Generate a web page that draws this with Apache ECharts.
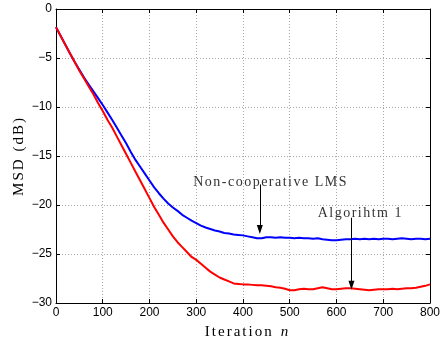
<!DOCTYPE html>
<html><head><meta charset="utf-8">
<script src="https://cdn.jsdelivr.net/npm/echarts@6/dist/echarts.min.js"></script>
<style>html,body{margin:0;padding:0;background:#fff}#c{width:443px;height:345px}</style>
</head><body><div id="c"></div>
<script>
const iterations = [0,10,20,30,40,50,60,70,80,90,100,110,120,130,140,150,160,170,180,190,200,210,220,230,240,250,260,270,280,290,300,310,320,330,340,350,360,370,380,390,400,410,420,430,440,450,460,470,480,490,500,510,520,530,540,550,560,570,580,590,600,610,620,630,640,650,660,670,680,690,700,710,720,730,740,750,760,770,780,790,800];
const nonCoopLMS = [-1.85,-2.75,-3.65,-4.55,-5.4,-6.2,-7.0,-7.7,-8.4,-9.1,-9.8,-10.55,-11.3,-12.1,-12.9,-13.7,-14.6,-15.4,-16.1,-16.8,-17.5,-18.2,-18.8,-19.35,-19.85,-20.25,-20.6,-21.0,-21.3,-21.6,-21.85,-22.1,-22.3,-22.45,-22.6,-22.7,-22.85,-22.9,-23.0,-23.05,-23.1,-23.2,-23.3,-23.4,-23.4,-23.3,-23.3,-23.35,-23.3,-23.35,-23.35,-23.4,-23.35,-23.4,-23.4,-23.45,-23.4,-23.5,-23.55,-23.6,-23.6,-23.55,-23.5,-23.5,-23.45,-23.5,-23.45,-23.5,-23.45,-23.5,-23.45,-23.45,-23.5,-23.45,-23.4,-23.45,-23.5,-23.45,-23.45,-23.5,-23.45];
const algorithm1 = [-1.85,-2.75,-3.65,-4.55,-5.4,-6.3,-7.1,-7.9,-8.7,-9.6,-10.4,-11.3,-12.1,-13.0,-13.9,-14.8,-15.7,-16.6,-17.5,-18.4,-19.3,-20.2,-21.0,-21.8,-22.5,-23.2,-23.8,-24.3,-24.8,-25.3,-25.6,-26.0,-26.4,-26.8,-27.1,-27.4,-27.6,-27.8,-28.0,-28.05,-28.1,-28.1,-28.15,-28.2,-28.2,-28.25,-28.3,-28.4,-28.45,-28.55,-28.7,-28.7,-28.6,-28.55,-28.6,-28.6,-28.5,-28.4,-28.5,-28.6,-28.6,-28.55,-28.5,-28.5,-28.55,-28.6,-28.65,-28.7,-28.65,-28.6,-28.6,-28.6,-28.55,-28.6,-28.55,-28.5,-28.5,-28.45,-28.35,-28.25,-28.1];
const xTicks = [0,100,200,300,400,500,600,700,800];
const yTicks = [-30,-25,-20,-15,-10,-5,0];
const annotationLabels = ['Non-cooperative LMS', 'Algorihtm 1'];
const annotationLabelAt = [[459, -17.65], [651, -20.9]];
const arrowFrom = [[436, -17.9], [632, -21.3]];
const arrowTip = [[436, -22.5], [632, -28.2]];

// wider tracking for the serif (LaTeX-like) texts
(function () {
  const proto = CanvasRenderingContext2D.prototype;
  const origFill = proto.fillText;
  proto.fillText = function (text, x, y, maxW) {
    if ('letterSpacing' in this) {
      const f = this.font || '';
      const m = /(\d+(?:\.\d+)?)px/.exec(f);
      if (/Serif/.test(f) && m) this.letterSpacing = (parseFloat(m[1]) >= 15 ? 2 : 1.5) + 'px';
      else this.letterSpacing = '0px';
    }
    return maxW === undefined ? origFill.call(this, text, x, y) : origFill.call(this, text, x, y, maxW);
  };
})();

const chart = echarts.init(document.getElementById('c'), null, {renderer: 'canvas'});
const serif = 'Liberation Serif';
const sans = 'Liberation Sans';
const fmt = v => String(v).replace('-', '\u2212');
const baseAxis = {
  axisLine: {show: true, onZero: false, lineStyle: {color: '#000', width: 1}},
  axisTick: {show: true, inside: true, length: 4, lineStyle: {color: '#000'}},
};
const gridLine = {show: true, lineStyle: {color: '#a8a8a8', type: [1, 2], width: 1}};
const opt = {
  animation: false,
  backgroundColor: '#fff',
  grid: {left: 56, right: 7, top: 9, bottom: 36, containLabel: false},
  xAxis: [
    Object.assign({}, baseAxis, {
      type: 'value', min: xTicks[0], max: xTicks[xTicks.length-1], interval: xTicks[1]-xTicks[0], position: 'bottom',
      axisLabel: {color: '#000', fontFamily: sans, fontSize: 12, margin: 4, formatter: fmt},
      splitLine: gridLine,
      name: '{a|Iteration}{b|n}', nameLocation: 'middle', nameGap: 22,
      nameTextStyle: {rich: {
        a: {fontFamily: serif, fontSize: 15, color: '#000', padding: [0, 0, 0, 17]},
        b: {fontFamily: serif, fontSize: 15, fontStyle: 'italic', color: '#000', padding: [0, 0, 0, 17]}
      }}
    }),
    Object.assign({}, baseAxis, {
      type: 'value', min: xTicks[0], max: xTicks[xTicks.length-1], interval: xTicks[1]-xTicks[0], position: 'top',
      axisLabel: {show: false}, splitLine: {show: false}
    })
  ],
  yAxis: [
    Object.assign({}, baseAxis, {
      type: 'value', min: yTicks[0], max: yTicks[yTicks.length-1], interval: yTicks[1]-yTicks[0], position: 'left',
      axisLabel: {color: '#000', fontFamily: sans, fontSize: 12, margin: 4, formatter: fmt},
      splitLine: gridLine,
      name: 'MSD (dB)', nameLocation: 'middle', nameGap: 29, nameRotate: 90, nameMoveOverlap: false,
      nameTextStyle: {fontFamily: serif, fontSize: 15, color: '#000'}
    }),
    Object.assign({}, baseAxis, {
      type: 'value', min: yTicks[0], max: yTicks[yTicks.length-1], interval: yTicks[1]-yTicks[0], position: 'right',
      axisLabel: {show: false}, splitLine: {show: false}
    })
  ],
  series: [
    {
      name: 'Non-cooperative LMS', type: 'line', showSymbol: false, silent: true,
      data: iterations.map((n, i) => [n, nonCoopLMS[i]]),
      lineStyle: {color: '#0000ff', width: 2}, itemStyle: {color: '#0000ff'}, z: 3
    },
    {
      name: 'Algorithm 1', type: 'line', showSymbol: false, silent: true,
      data: iterations.map((n, i) => [n, algorithm1[i]]),
      lineStyle: {color: '#ff0000', width: 2}, itemStyle: {color: '#ff0000'}, z: 3,
      markLine: {
        silent: true, symbol: ['none', 'triangle'], symbolSize: 8,
        lineStyle: {color: '#000', width: 1, type: 'solid'}, label: {show: false},
        itemStyle: {color: '#000'},
        data: arrowFrom.map((p, i) => [{coord: p, symbol: 'none'}, {coord: arrowTip[i], symbol: 'triangle', symbolSize: [6, 9]}])
      },
      markPoint: {
        silent: true, symbol: 'circle', symbolSize: 0,
        label: {show: true, position: 'inside', formatter: '{b}', color: '#333', fontFamily: serif, fontSize: 14},
        data: annotationLabels.map((t, i) => ({name: t, coord: annotationLabelAt[i]}))
      }
    }
  ]
};
chart.setOption(opt);
</script></body></html>
